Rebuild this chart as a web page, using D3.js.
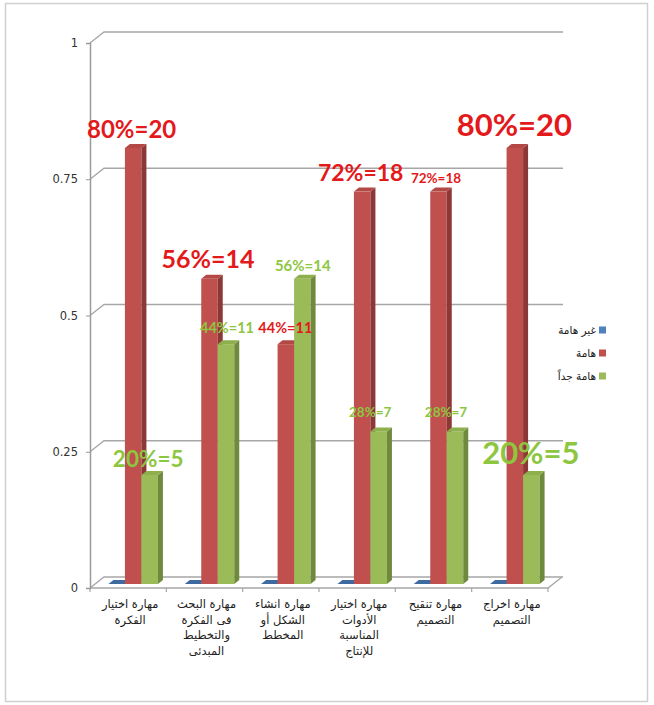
<!DOCTYPE html>
<html>
<head>
<meta charset="utf-8">
<script src="https://cdn.jsdelivr.net/npm/d3@7/dist/d3.min.js"></script>
<style>
  html, body { margin: 0; padding: 0; background: #fff; }
  svg { display: block; }
</style>
</head>
<body>
<svg id="chart" width="654" height="705"></svg>
<script>
// ---- data ----
const categories = [
  ["مهارة اختيار", "الفكرة"],
  ["مهارة البحث", "فى الفكرة", "والتخطيط", "المبدئى"],
  ["مهارة انشاء", "الشكل أو", "المخطط"],
  ["مهارة اختيار", "الأدوات", "المناسبة", "للإنتاج"],
  ["مهارة تنقيح", "التصميم"],
  ["مهارة اخراج", "التصميم"]
];
const seriesNames = ["غير هامة", "هامة", "هامة جداً"];
const notImportant = [0, 0, 0, 0, 0, 0];
const important = [20, 14, 11, 18, 18, 20];
const veryImportant = [5, 11, 14, 7, 7, 5];
const respondents = 25;
const yTicks = [0, 0.25, 0.5, 0.75, 1];
const yTickLabels = ["0", "0.25", "0.5", "0.75", "1"];

// ---- label styling (font size, offset from bar top) ----
const importantLabelSize = [24, 25, 14.5, 23, 13.5, 31];
const importantLabelShift = [[-4, -20], [-4, -21], [-3, -17], [-4, -19.5], [-5, -13.5], [-3, -24]];
const veryLabelSize = [22.5, 14.5, 15, 13.5, 13.5, 31];
const veryLabelShift = [[-4, -17], [-1.5, -17], [-2, -13.5], [-11, -19], [-11.5, -19], [-3, -23]];

// ---- layout ----
const svg = d3.select("#chart");
const front = { left: 90, right: 548, bottom: 588, top: 43 };
const depth = { dx: 14, dy: -11 };       // wall depth
const barShift = { dx: 5, dy: -4 };      // bar front plane inside the depth
const barDepth = { dx: 5, dy: -4 };      // bar thickness

const colors = [
  { front: "#4F81BD", side: "#385D8A", top: "#3E6AA0" },
  { front: "#C0504D", side: "#8C3836", top: "#B34845" },
  { front: "#9BBB59", side: "#6F8A3C", top: "#8DAF4C" }
];
const labelColors = ["#4F81BD", "#E3191B", "#8DC63F"];

// outer frame
svg.append("rect")
  .attr("x", 5.5).attr("y", 3.5).attr("width", 642).attr("height", 698)
  .attr("fill", "none").attr("stroke", "#D0D0D0").attr("stroke-width", 1.5);

const y = d3.scaleLinear().domain([0, 1]).range([front.bottom, front.top]);
const x = d3.scaleBand().domain(d3.range(categories.length))
  .range([front.left, front.right]).paddingInner(0).paddingOuter(0);
const xs = d3.scaleBand().domain(d3.range(seriesNames.length))
  .range([0, x.bandwidth()]).paddingInner(0).paddingOuter(0.813);

const gridColor = "#A6A6A6";

// back wall gridlines with their diagonal connection to the front axis
const grid = svg.append("g");
yTicks.forEach(v => {
  const yy = y(v);
  grid.append("path")
    .attr("d", `M${front.left},${yy} L${front.left + depth.dx},${yy + depth.dy} L${front.right + depth.dx + 1},${yy + depth.dy}`)
    .attr("fill", "none").attr("stroke", gridColor).attr("stroke-width", 1.3);
});

// floor edges
svg.append("path")
  .attr("d", `M${front.left},${front.bottom} L${front.right},${front.bottom} L${front.right + depth.dx},${front.bottom + depth.dy}`)
  .attr("fill", "none").attr("stroke", gridColor).attr("stroke-width", 1.3);

// category tick marks along the front floor edge
const xAxis = d3.axisBottom(x).tickSize(4).tickFormat("");
const xg = svg.append("g").attr("transform", `translate(0,${front.bottom})`).call(xAxis);
xg.select(".domain").remove();
xg.selectAll(".tick").remove();
xg.selectAll("line.bound")
  .data(d3.range(categories.length + 1))
  .join("line")
  .attr("class", "bound")
  .attr("x1", i => front.left + i * x.step()).attr("x2", i => front.left + i * x.step())
  .attr("y1", 0).attr("y2", 4)
  .attr("stroke", gridColor).attr("stroke-width", 1.2);

// value axis
const yAxis = d3.axisLeft(y).tickValues(yTicks).tickSize(4)
  .tickFormat((d, i) => yTickLabels[i]);
const yg = svg.append("g").attr("transform", `translate(${front.left},0)`).call(yAxis);
yg.select(".domain").attr("stroke", "#9A9A9A").attr("stroke-width", 1.5);
yg.selectAll(".tick line").attr("stroke", "#9A9A9A");
yg.selectAll(".tick text")
  .attr("x", -12)
  .attr("fill", "#333").attr("font-family", "'DejaVu Sans', sans-serif").attr("font-size", 11.5);

// 3D columns
const series = [notImportant, important, veryImportant];
const bars = svg.append("g");
categories.forEach((c, i) => {
  series.forEach((vals, s) => {
    const v = vals[i] / respondents;
    const x0 = x(i) + xs(s) + barShift.dx;
    const w = xs.bandwidth();
    const top = y(v) + barShift.dy;
    const bot = y(0) + barShift.dy;
    const col = colors[s];
    const g = bars.append("g");
    if (bot - top > 0) {
      g.append("rect").attr("x", x0).attr("y", top).attr("width", w).attr("height", bot - top)
        .attr("fill", col.front);
      g.append("path")
        .attr("d", `M${x0 + w},${top} L${x0 + w + barDepth.dx},${top + barDepth.dy} L${x0 + w + barDepth.dx},${bot + barDepth.dy} L${x0 + w},${bot} Z`)
        .attr("fill", col.side);
    }
    g.append("path")
      .attr("d", `M${x0},${top} L${x0 + barDepth.dx},${top + barDepth.dy} L${x0 + w + barDepth.dx},${top + barDepth.dy} L${x0 + w},${top} Z`)
      .attr("fill", col.top);
  });
});

// value labels "pct%=count"
const labels = svg.append("g")
  .attr("font-family", "Lato, 'Open Sans', sans-serif").attr("font-weight", 700)
  .attr("text-anchor", "middle");
[[1, important, importantLabelSize, importantLabelShift],
 [2, veryImportant, veryLabelSize, veryLabelShift]].forEach(([s, vals, sizes, shifts]) => {
  vals.forEach((cnt, i) => {
    const v = cnt / respondents;
    const cx = x(i) + xs(s) + barShift.dx + xs.bandwidth() / 2 + barDepth.dx / 2;
    const top = y(v) + barShift.dy;
    labels.append("text")
      .attr("x", cx + shifts[i][0]).attr("y", top + shifts[i][1])
      .attr("dominant-baseline", "central")
      .attr("font-size", sizes[i])
      .attr("fill", labelColors[s])
      .text(`${Math.round(v * 100)}%=${cnt}`);
  });
});

// category labels
const catG = svg.append("g")
  .attr("font-family", "'DejaVu Sans', sans-serif").attr("font-size", 11.5)
  .attr("fill", "#222").attr("text-anchor", "middle");
categories.forEach((lines, i) => {
  const t = catG.append("text").attr("x", x(i) + x.bandwidth() / 2 + 2).attr("y", 608);
  lines.forEach((ln, k) => {
    t.append("tspan").attr("x", x(i) + x.bandwidth() / 2 + 2).attr("y", 608 + k * 15.5).text(ln);
  });
});

// legend
const legend = svg.append("g").attr("font-family", "'DejaVu Sans', sans-serif").attr("font-size", 10.5).attr("fill", "#222");
seriesNames.forEach((name, s) => {
  const ly = 330 + s * 23;
  legend.append("rect").attr("x", 599).attr("y", ly - 3.5).attr("width", 7).attr("height", 7).attr("fill", colors[s].front);
  legend.append("text").attr("x", 596).attr("y", ly).attr("dominant-baseline", "central")
    .attr("text-anchor", "end").text(name);
});
</script>
</body>
</html>
